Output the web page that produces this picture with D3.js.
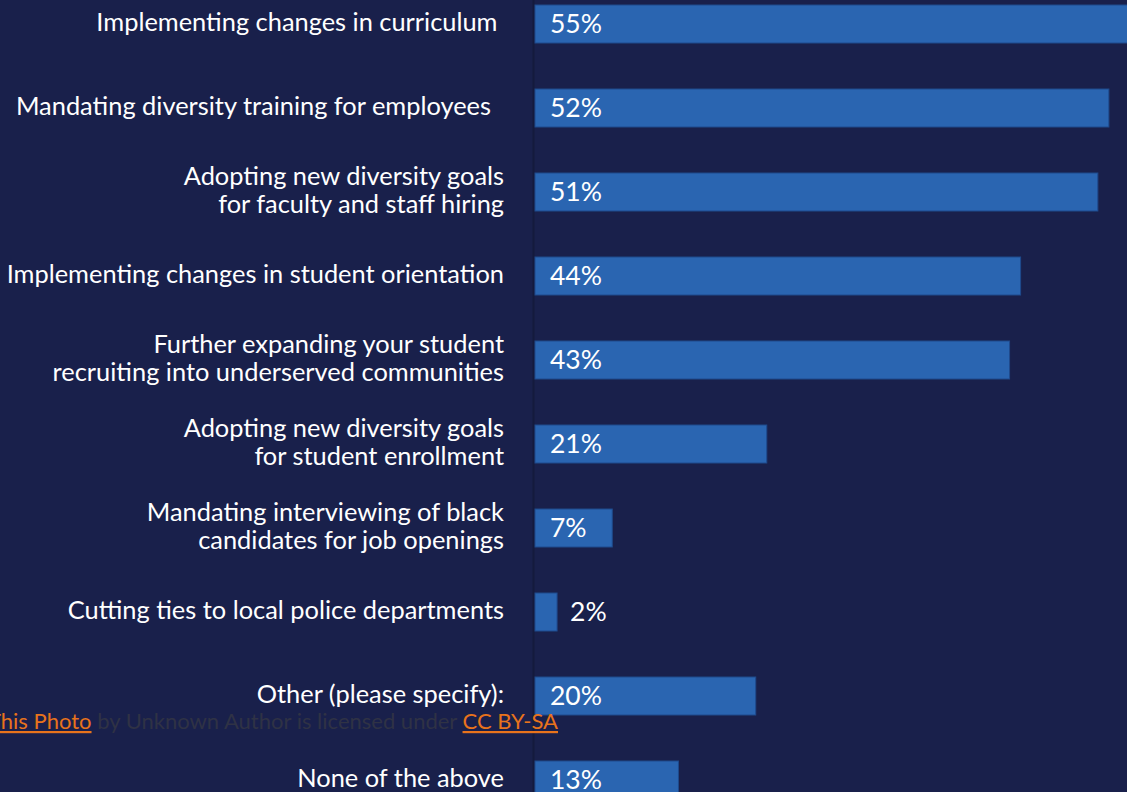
<!DOCTYPE html>
<html>
<head>
<meta charset="utf-8">
<script src="https://cdn.jsdelivr.net/npm/d3@7"></script>
<style>
  html, body { margin: 0; padding: 0; background: #19204b; overflow: hidden; }
  svg { display: block; }
  text { font-family: Lato, "Open Sans", sans-serif; white-space: pre; }
</style>
</head>
<body>
<svg id="chart" width="1127" height="792"></svg>
<script>
const categories = [
  "Implementing changes in curriculum ",
  "Mandating diversity training for employees  ",
  "Adopting new diversity goals\nfor faculty and staff hiring",
  "Implementing changes in student orientation",
  "Further expanding your student\nrecruiting into underserved communities",
  "Adopting new diversity goals\nfor student enrollment",
  "Mandating interviewing of black\ncandidates for job openings",
  "Cutting ties to local police departments",
  "Other (please specify):",
  "None of the above"
];
const values = [55, 52, 51, 44, 43, 21, 7, 2, 20, 13];
const valueLabels = values.map(v => v + "%");
const creditParts = [
  { text: "This Photo", link: true },
  { text: " by Unknown Author is licensed under ", link: false },
  { text: "CC BY-SA", link: true }
];

const W = 1127, H = 792;
const svg = d3.select("#chart");
svg.append("rect").attr("width", W).attr("height", H).attr("fill", "#19204b");

const x = d3.scaleLinear().domain([0, 55]).range([535, 1142]);
const y = d3.scaleBand().domain(categories).range([5, 799]).paddingInner(1 - 38 / 84).paddingOuter(0);

// baseline axis
svg.append("line")
  .attr("x1", x(0) - 1.5).attr("x2", x(0) - 1.5)
  .attr("y1", 0).attr("y2", H)
  .attr("stroke", "#141a3d").attr("stroke-width", 2);

const data = categories.map((c, i) => ({ c, v: values[i], lab: valueLabels[i] }));

svg.append("g").selectAll("rect").data(data).join("rect")
  .attr("x", x(0))
  .attr("y", d => y(d.c))
  .attr("width", d => x(d.v) - x(0))
  .attr("height", y.bandwidth())
  .attr("fill", "#2a65b1")
  .attr("stroke", "#1f4a8c")
  .attr("stroke-width", 1);

// value labels
svg.append("g").selectAll("text").data(data).join("text")
  .attr("x", d => (x(d.v) - x(0) > 50 ? x(0) + 15 : x(d.v) + 13))
  .attr("y", d => y(d.c) + y.bandwidth() / 2 - 1)
  .attr("dy", "0.36em")
  .attr("fill", "#ffffff")
  .attr("font-size", 26.5)
  .text(d => d.lab);

// category labels
const lineH = 28;
const labels = svg.append("g").selectAll("text").data(data).join("text")
  .attr("text-anchor", "end")
  .attr("fill", "#ffffff")
  .attr("font-size", 25.4);
labels.each(function(d) {
  const lines = d.c.split("\n");
  const cy = y(d.c) + y.bandwidth() / 2 - 2.5;
  const t = d3.select(this);
  lines.forEach((ln, j) => {
    t.append("tspan")
      .attr("x", 504)
      .attr("y", cy + (j - (lines.length - 1) / 2) * lineH)
      .attr("dy", "0.36em")
      .text(ln);
  });
});

// credit line
const credit = svg.append("text")
  .attr("x", -12).attr("y", 729)
  .attr("font-size", 22);
creditParts.forEach(p => {
  credit.append("tspan")
    .attr("fill", p.link ? "#e8731c" : "#2f3245")
    .attr("text-decoration", p.link ? "underline" : null)
    .text(p.text);
});
</script>
</body>
</html>
